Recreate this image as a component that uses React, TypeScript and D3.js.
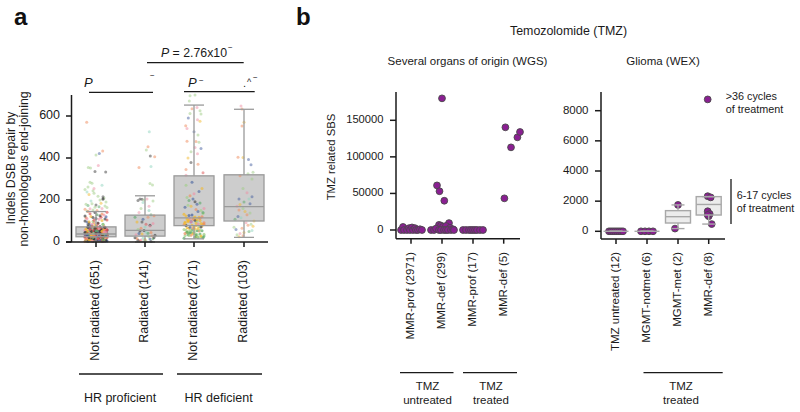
import React from "react";
import * as d3 from "d3";

const FONT = "'Liberation Sans', Arial, sans-serif";
const groupsA = ["Not radiated (651)", "Radiated (141)", "Not radiated (271)", "Radiated (103)"];
const boxesA = [
  { lo: 0, q1: 25, med: 38, q3: 72, hi: 145 },
  { lo: 0, q1: 28, med: 55, q3: 128, hi: 220 },
  { lo: 15, q1: 78, med: 115, q3: 315, hi: 652 },
  { lo: 22, q1: 100, med: 168, q3: 320, hi: 632 },
];
const palette = ["#9fce85", "#f08a5a", "#f2b92e", "#45609f", "#3c3c3c", "#f08fa6", "#8fd6c0", "#dd4f4f", "#58a868"];
const jitter = [-9, 4, -3, 8, -11, 1, 6, -6, 11, -1, 3, -8, 9, -4, 0, 7, -10, 2, 5, -7, 10, -2, -5];
const jitterNarrow = [-8, 3, -2, 6, -10, 1, 9, -5, 4, -1, 7, -7, 2, -4, 10, 0, -9, 5, -3, 8, -6];

const colourCycleA1 = [4, 1, 7, 3, 2, 4, 5, 8, 7, 4, 1, 3, 0, 4, 2, 7, 5, 4];
const colourCycleA1Upper = [0, 0, 1, 5, 0, 8, 0, 4, 0, 2, 0, 6];
const colourCycleA2 = [4, 0, 1, 6, 4, 5, 2, 3, 8, 1, 6, 4];
const colourCycleA3Low = [8, 0, 8, 0, 2, 8, 0, 1, 8, 0];
const colourCycleA3Mid = [2, 2, 1, 2, 3, 2, 0, 2, 4, 2, 1, 2, 5];
const colourCycleA3High = [8, 3, 0, 1, 5, 3, 2, 0, 3, 8, 4];
const colourCycleA4 = [2, 1, 0, 5, 2, 8, 6, 3, 1, 0];

const denseA1Core = [2,3,4,5,5,6,7,8,8,9,10,10,11,12,12,13,14,15,15,16,17,18,18,19,20,20,21,22,23,24,24,25,26,27,28,28,29,30,30,31,32,33,34,34,35,36,37,38,38,39,40,40,41,42,43,44,44,45,46,47,48,48,49,50,50,51,52,53,54,55,56,56,57,58,60,60,62,63,64,65,66,68,70,70,72,3,6,9,11,14,17,20,23,26,29,32,35,38,41,44,47,50,53,56,59,62,65,68,71,74,4,8,12,16,19,22,25,28,31,34,37,40,43,46,49,52,55,58,61,64,67,70,5,10,15,21,27,33,39,45,51,57,63,69,7,13,24,30,36,42,48,54,60,66];
const denseA1Mid = [74,75,76,78,80,82,84,85,88,90,92,95,98,100,102,105,108,110,112,115,118,120,122,125,128,130,135,140,145,76,83,91,97,104,111,117,124,133,142];
const denseA1Upper = [148,152,156,160,164,168,172,176,180,185,190,195,200,210,150,158,166,174,182,205,218,226,232,238,244,250];
const sparseA1: [number, number, number][] = [[-9.3,570,1],[6.7,433,1],[3.3,422,3],[0,414,0],[2.3,364,5],[-7.7,355,0],[-5.5,352,0],[-1,336,4],[9.7,333,4],[6,270,6],[-6,285,0],[-4,280,0],[-8,262,0],[-2,255,5],[7,215,4],[7,205,4]];

const denseA2 = [2,3,5,6,8,10,12,14,15,17,18,20,22,25,28,30,32,35,38,40,42,45,48,52,55,60,66,72,80,88,95,108,118,125,150];
const sparseA2: [number, number, number][] = [[4.3,525,6],[3,454,1],[1.3,438,0],[5.3,409,4],[9.7,406,1],[-6,355,1],[6,360,6],[5,278,0],[7.5,272,0],[-5,205,4],[-3,203,4],[-1,200,0],[2,205,5],[8,195,0],[-7,198,4],[-2,188,6],[4,170,5],[-4,160,0],[-6,140,5],[6,130,8],[3,118,1],[-3,95,4],[1,85,7],[5,75,5]];

const denseA3Low = [18,20,22,24,26,28,30,32,34,36,38,40,42,44,46,48,50,52,54,56,58,60,21,25,29,33,37,41,45,49,53,57,23,31,39,47,55];
const denseA3Mid = [62,65,66,68,70,72,74,76,78,80,82,84,86,88,90,92,94,96,98,100,102,104,106,108,110,112,115,118,120,124,128,132,136,64,71,77,83,89,95,101,107,113,119,126];
const denseA3High = [140,145,150,155,160,165,170,175,180,186,192,198,205,212,220,230,240,255,270,285];
const sparseA3: [number, number, number][] = [[1,700,0],[-4,697,0],[-4.7,671,0],[-4,612,0],[-5.7,590,3],[3,640,5],[-2,635,1],[6,625,0],[7,610,0],[3.5,582,5],[6,575,2],[-8.3,553,1],[-7,540,5],[0,525,3],[4,510,0],[-7,480,1],[2,478,1],[5,475,0],[1,450,5],[7,445,3],[-3,430,0],[3.5,420,5],[-6,400,2],[-3,378,4],[4,370,1],[-8,345,1],[9,330,7],[-8,318,5]];

const denseA4 = [25,30,35,40,45,50,55,60,65,70,75,80,85,92,100,108,115,122,130,138,145,152,160,170,178,190,205,215];
const sparseA4: [number, number, number][] = [[-3,648,5],[-2,633,1],[0,570,2],[-2,552,1],[-6,403,1],[-1,402,2],[4.5,393,3],[7,368,3],[4,325,0],[9,332,0],[-4,315,1],[8,300,0],[-1,255,0],[3,235,5],[-5,205,3],[6,182,3]];

const denseLayers: { g: number; vals: number[]; cycle: number[]; op: number }[] = [
  { g: 0, vals: denseA1Upper, cycle: colourCycleA1Upper, op: 0.5 },
  { g: 0, vals: denseA1Mid, cycle: colourCycleA1, op: 0.65 },
  { g: 0, vals: denseA1Core, cycle: colourCycleA1, op: 0.8 },
  { g: 1, vals: denseA2, cycle: colourCycleA2, op: 0.6 },
  { g: 2, vals: denseA3Low, cycle: colourCycleA3Low, op: 0.7 },
  { g: 2, vals: denseA3Mid, cycle: colourCycleA3Mid, op: 0.7 },
  { g: 2, vals: denseA3High, cycle: colourCycleA3High, op: 0.6 },
  { g: 3, vals: denseA4, cycle: colourCycleA4, op: 0.5 },
];
const sparseAll = [sparseA1, sparseA2, sparseA3, sparseA4];
const ticksA = [0, 200, 400, 600];

const groupsB = ["MMR-prof (2971)", "MMR-def (299)", "MMR-prof (17)", "MMR-def (5)"];
const ticksB = [0, 50000, 100000, 150000];
const pointsB: [number, number][][] = [
  [[-10,0],[-8,4200],[-7,0],[-4,0],[-2,2500],[-1,0],[1,3500],[2,0],[4,2500],[5,0],[7,0],[9,1000],[11,0]],
  [[0,180000],[-5,61000],[-2.5,53000],[2.3,40000],[7,9500],[-3,7000],[-1,6000],[1,4500],[4,5500],[8,3000],[-11,0],[-8,0],[-6,2000],[-3,0],[-1,0],[2,0],[4,0],[6,0],[9,0],[11,1000],[12,0]],
  [[-10,0],[-7,0],[-4,0],[-2,0],[0,0],[2,0],[4,0],[7,0],[10,0]],
  [[1.7,140400],[7.3,113000],[13.7,126700],[16.3,134000],[0.7,43300]],
];
const groupsC = ["TMZ untreated (12)", "MGMT-notmet (6)", "MGMT-met (2)", "MMR-def (8)"];
const ticksC = [0, 2000, 4000, 6000, 8000];
const boxesC = [
  { lo: 0, q1: 0, med: 0, q3: 0, hi: 0 },
  { lo: 0, q1: 0, med: 0, q3: 0, hi: 0 },
  { lo: 180, q1: 550, med: 970, q3: 1370, hi: 1750 },
  { lo: 480, q1: 1080, med: 1780, q3: 2300, hi: 2300 },
];
const pointsC: [number, number][][] = [
  [[-7,0],[-5,0],[-3,0],[-1,0],[1,0],[3,0],[5,0],[7,0]],
  [[-6,0],[-2,0],[2,0],[6,0]],
  [[-3,180],[0,1750]],
  [[-1,8750],[-1,2330],[2,2250],[-1,1330],[1,1150],[0,1000],[-1,1080],[3,480]],
];

const A = { x0: 71.5, y0: 242, top: 95, right: 268, centers: [96, 145, 194, 244] };
const B = { x0: 396, bottom: 238.7, top: 92, right: 520, centers: [411, 442, 473, 503.7] };
const C = { x0: 601, bottom: 239, top: 92, right: 725, centers: [616, 647, 678, 708.7] };
const PURPLE = "#8a1f92";

function Txt({ x, y, s = 11, rot, anchor = "middle", children }: any) {
  return (
    <text x={x} y={y} fontSize={s} textAnchor={anchor} dominantBaseline="middle"
      transform={rot != null ? `rotate(${rot} ${x} ${y})` : undefined} fill="#1a1a1a">{children}</text>
  );
}

export default function App() {
  const yA = d3.scaleLinear().domain([0, 700]).range([242, 95]);
  const yB = d3.scaleLinear().domain([0, 150000]).range([230, 120.3]);
  const yC = d3.scaleLinear().domain([0, 8000]).range([231.3, 110.7]);
  const axisW = 1.5;
  return (
    <svg width={800} height={412} style={{ position: "absolute", left: 0, top: 0 }} fontFamily={FONT}>
      <rect width={800} height={412} fill="#fff" />
      <text x={14} y={25} fontSize={24} fontWeight="bold" fill="#111">a</text>
      <text x={296} y={25} fontSize={24} fontWeight="bold" fill="#111">b</text>

      {/* Panel a */}
      {boxesA.map((b, i) => (
        <rect key={i} x={A.centers[i] - 20} width={40} y={yA(b.q3)} height={yA(b.q1) - yA(b.q3)} fill="#cdcdcd" />
      ))}
      {denseLayers.map((l, k) => l.vals.map((v, i) => (
        <circle key={`d${k}-${i}`} cx={A.centers[l.g] + (l.g === 0 ? jitter : jitterNarrow)[(i * 2 + k) % (l.g === 0 ? jitter : jitterNarrow).length]} cy={yA(v)} r={1.5}
          fill={palette[l.cycle[i % l.cycle.length]]} opacity={l.op} />
      )))}
      {sparseAll.map((pts, g) => pts.map(([dx, v, c], i) => (
        <circle key={`s${g}-${i}`} cx={A.centers[g] + dx} cy={yA(v)} r={1.5} fill={palette[c]} opacity={0.5} />
      )))}
      {boxesA.map((b, i) => {
        const cx = A.centers[i];
        return (
          <g key={i} stroke="#9a9a9a" strokeWidth={1.3} fill="none">
            <rect x={cx - 20} width={40} y={yA(b.q3)} height={yA(b.q1) - yA(b.q3)} />
            <line x1={cx - 20} x2={cx + 20} y1={yA(b.med)} y2={yA(b.med)} />
            <line x1={cx} x2={cx} y1={yA(b.q3)} y2={yA(b.hi)} />
            <line x1={cx} x2={cx} y1={yA(b.q1)} y2={yA(b.lo)} />
            <line x1={cx - 10} x2={cx + 10} y1={yA(b.hi)} y2={yA(b.hi)} />
            <line x1={cx - 10} x2={cx + 10} y1={yA(b.lo)} y2={yA(b.lo)} />
          </g>
        );
      })}
      <g stroke="#1a1a1a" strokeWidth={axisW}>
        <line x1={A.x0} x2={A.x0} y1={A.top} y2={A.y0} />
        <line x1={66} x2={A.right} y1={A.y0} y2={A.y0} />
        {ticksA.map(t => <line key={t} x1={66} x2={A.x0} y1={yA(t)} y2={yA(t)} />)}
        {A.centers.map(c => <line key={c} x1={c} x2={c} y1={A.y0} y2={A.y0 + 5} />)}
      </g>
      {ticksA.map(t => <Txt key={t} x={60} y={yA(t)} s={12.5} anchor="end">{t}</Txt>)}
      {groupsA.map((g, i) => <Txt key={g} x={A.centers[i]} y={260} s={12.5} rot={-90} anchor="end">{g}</Txt>)}
      <Txt x={12} y={168} s={12.3} rot={-90}>Indels DSB repair by</Txt>
      <Txt x={25} y={169} s={12.3} rot={-90}>non-homologous end-joining</Txt>

      <g stroke="#1a1a1a" strokeWidth={1.3}>
        <line x1={147} x2={243.7} y1={62.7} y2={62.7} />
        <line x1={89} x2={153} y1={92.3} y2={92.3} />
        <line x1={184} x2={254.7} y1={91.7} y2={91.7} />
        <line x1={79} x2={163} y1={374} y2={374} />
        <line x1={177} x2={262} y1={374} y2={374} />
        <line x1={400} x2={453.5} y1={372.7} y2={372.7} />
        <line x1={463} x2={517} y1={372.7} y2={372.7} />
        <line x1={643.5} x2={722.7} y1={372.7} y2={372.7} />
        <line x1={731} x2={731} y1={179} y2={224} />
      </g>
      <text x={161} y={57} fontSize={12.3} fill="#1a1a1a"><tspan fontStyle="italic">P</tspan> = 2.76x10</text>
      <text x={228} y={50} fontSize={8} fill="#1a1a1a">−</text>
      <text x={84} y={87} fontSize={13} fontStyle="italic" fill="#1a1a1a">P</text>
      <text x={150} y={78} fontSize={8} fill="#1a1a1a">−</text>
      <text x={188} y={87} fontSize={13} fontStyle="italic" fill="#1a1a1a">P</text>
      <text x={199} y={83} fontSize={8} fill="#1a1a1a">−</text>
      <text x={243} y={87} fontSize={11} fill="#1a1a1a">.</text>
      <text x={247} y={85} fontSize={9} fill="#1a1a1a">^</text>
      <text x={253} y={80} fontSize={8} fill="#1a1a1a">−</text>
      <Txt x={120} y={399} s={12.5}>HR proficient</Txt>
      <Txt x={218.6} y={399} s={12.5}>HR deficient</Txt>

      {/* Panel b */}
      <Txt x={568.5} y={32} s={12.4}>Temozolomide (TMZ)</Txt>
      <Txt x={467.5} y={62} s={11.5}>Several organs of origin (WGS)</Txt>
      <Txt x={663} y={62} s={11.5}>Glioma (WEX)</Txt>
      <Txt x={332} y={157} s={11.3} rot={-90}>TMZ related SBS</Txt>

      {pointsB.map((pts, g) => pts.map(([dx, v], i) => (
        <circle key={`${g}-${i}`} cx={B.centers[g] + dx} cy={yB(v)} r={3.4} fill={PURPLE} stroke="#4a4a4a" strokeWidth={0.9} />
      )))}
      <g stroke="#1a1a1a" strokeWidth={axisW}>
        <line x1={B.x0} x2={B.x0} y1={B.top} y2={B.bottom} />
        <line x1={B.x0} x2={B.right} y1={B.bottom} y2={B.bottom} />
        {ticksB.map(t => <line key={t} x1={390} x2={B.x0} y1={yB(t)} y2={yB(t)} />)}
        {B.centers.map(c => <line key={c} x1={c} x2={c} y1={B.bottom} y2={B.bottom + 5} />)}
      </g>
      {ticksB.map(t => <Txt key={t} x={383.5} y={yB(t)} s={11.2} anchor="end">{t}</Txt>)}
      {groupsB.map((g, i) => <Txt key={g} x={B.centers[i]} y={252} s={11.5} rot={-90} anchor="end">{g}</Txt>)}
      <Txt x={427.5} y={386.7} s={11.5}>TMZ</Txt>
      <Txt x={427.5} y={401} s={11.5}>untreated</Txt>
      <Txt x={491} y={386.7} s={11.5}>TMZ</Txt>
      <Txt x={491} y={401} s={11.5}>treated</Txt>

      {/* Panel c */}
      {boxesC.map((b, i) => (
        <rect key={i} x={C.centers[i] - 12.5} width={25} y={yC(b.q3)} height={yC(b.q1) - yC(b.q3)} fill="#ececec" />
      ))}
      {pointsC.map((pts, g) => pts.map(([dx, v], i) => (
        <circle key={`${g}-${i}`} cx={C.centers[g] + dx} cy={yC(v)} r={3.4} fill={PURPLE} stroke="#4a4a4a" strokeWidth={0.9} />
      )))}
      {boxesC.map((b, i) => {
        const cx = C.centers[i];
        return (
          <g key={i} stroke="#a8a8a8" strokeWidth={1.4} fill="none">
            <rect x={cx - 12.5} width={25} y={yC(b.q3)} height={yC(b.q1) - yC(b.q3)} />
            <line x1={cx - 12.5} x2={cx + 12.5} y1={yC(b.med)} y2={yC(b.med)} />
            <line x1={cx} x2={cx} y1={yC(b.q3)} y2={yC(b.hi)} />
            <line x1={cx} x2={cx} y1={yC(b.q1)} y2={yC(b.lo)} />
            <line x1={cx - 6.5} x2={cx + 6.5} y1={yC(b.hi)} y2={yC(b.hi)} />
            <line x1={cx - 6.5} x2={cx + 6.5} y1={yC(b.lo)} y2={yC(b.lo)} />
          </g>
        );
      })}
      <g stroke="#1a1a1a" strokeWidth={axisW}>
        <line x1={C.x0} x2={C.x0} y1={C.top} y2={C.bottom} />
        <line x1={C.x0} x2={C.right} y1={C.bottom} y2={C.bottom} />
        {ticksC.map(t => <line key={t} x1={595} x2={C.x0} y1={yC(t)} y2={yC(t)} />)}
        {C.centers.map(c => <line key={c} x1={c} x2={c} y1={C.bottom} y2={C.bottom + 5} />)}
      </g>
      {ticksC.map(t => <Txt key={t} x={588.5} y={yC(t)} s={11.5} anchor="end">{t}</Txt>)}
      {groupsC.map((g, i) => <Txt key={g} x={C.centers[i]} y={252} s={11.5} rot={-90} anchor="end">{g}</Txt>)}
      <Txt x={681} y={386.7} s={11.5}>TMZ</Txt>
      <Txt x={681} y={401} s={11.5}>treated</Txt>
      <Txt x={725.7} y={96.7} s={10.8} anchor="start">&gt;36 cycles</Txt>
      <Txt x={725.7} y={110} s={10.8} anchor="start">of treatment</Txt>
      <Txt x={736.7} y={196} s={10.8} anchor="start">6-17 cycles</Txt>
      <Txt x={736.7} y={209} s={10.8} anchor="start">of treatment</Txt>
    </svg>
  );
}
